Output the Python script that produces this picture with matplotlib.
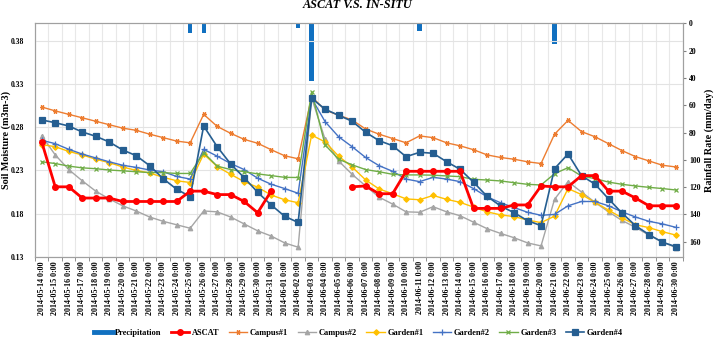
import numpy as np
import pandas as pd
import matplotlib
matplotlib.use('Agg')
import matplotlib.pyplot as plt
from matplotlib.lines import Line2D
from matplotlib.ticker import FixedLocator

plt.rcParams['font.family'] = ['Liberation Serif', 'DejaVu Serif']
plt.rcParams['font.weight'] = 'bold'

# ---------------- data ----------------
dates = pd.date_range('2014-05-14', '2014-06-30', freq='D')
date_labels = [f"{d:%Y-%m-%d} 0:00" for d in dates]

nan = np.nan
precipitation = [0, 0, 0, 0, 0, 0, 0, 0, 0, 0, 0, 7.0, 7.3, 0, 0, 0, 0, 0, 0, 3.7,
                 42.3, 0, 0, 0, 0, 0, 0, 0, 5.6, 0, 0, 0, 0, 0, 0, 0, 0, 0,
                 15.2, 0, 0, 0, 0, 0, 0, 0, 0, 0]

ascat = [0.263, 0.211, 0.211, 0.198, 0.198, 0.198, 0.194, 0.194, 0.194, 0.194,
         0.194, 0.206, 0.206, 0.202, 0.202, 0.194, 0.181, 0.206, nan, nan,
         nan, nan, nan, 0.211, 0.212, 0.203, 0.203, 0.229, 0.229, 0.229,
         0.229, 0.229, 0.186, 0.186, 0.186, 0.190, 0.190, 0.212, 0.211, 0.211,
         0.224, 0.224, 0.206, 0.206, 0.198, 0.189, 0.189, 0.189]

campus1 = [0.3035, 0.299, 0.295, 0.291, 0.287, 0.283, 0.279, 0.2765, 0.272, 0.268,
           0.264, 0.262, 0.295, 0.281, 0.273, 0.266, 0.2615, 0.254, 0.247, 0.2435,
           0.3155, 0.300, 0.294, 0.2885, 0.278, 0.272, 0.267, 0.262, 0.270, 0.268,
           0.262, 0.2585, 0.254, 0.248, 0.245, 0.243, 0.240, 0.238,
           0.272, 0.288, 0.275, 0.269, 0.261, 0.253, 0.246, 0.241, 0.236, 0.234]

campus2 = [0.270, 0.248, 0.231, 0.218, 0.206, 0.197, 0.189, 0.183, 0.176, 0.171,
           0.167, 0.163, 0.183, 0.182, 0.176, 0.168, 0.160, 0.154, 0.146, 0.141,
           0.314, 0.266, 0.241, 0.2255, 0.212, 0.199, 0.191, 0.182, 0.1815, 0.188,
           0.182, 0.1775, 0.170, 0.1625, 0.157, 0.152, 0.146, 0.1425,
           0.1965, 0.217, 0.205, 0.193, 0.182, 0.172, 0.164, 0.155, 0.147, 0.1405]

garden1 = [0.260, 0.2575, 0.252, 0.248, 0.243, 0.239, 0.234, 0.230, 0.227, 0.222,
           0.218, 0.216, 0.249, 0.2345, 0.2255, 0.217, 0.2105, 0.2015, 0.196, 0.1925,
           0.271, 0.263, 0.2465, 0.234, 0.219, 0.2085, 0.203, 0.197, 0.196, 0.201,
           0.1965, 0.193, 0.1875, 0.182, 0.1785, 0.1765, 0.1725, 0.1695,
           0.177, 0.209, 0.202, 0.193, 0.184, 0.175, 0.167, 0.1637, 0.159, 0.155]

garden2 = [0.265, 0.261, 0.2545, 0.249, 0.2445, 0.240, 0.236, 0.2335, 0.2305, 0.2285,
           0.223, 0.220, 0.2545, 0.2465, 0.238, 0.231, 0.221, 0.214, 0.209, 0.2035,
           0.3136, 0.2865, 0.269, 0.2575, 0.245, 0.2355, 0.229, 0.220, 0.217, 0.222,
           0.220, 0.217, 0.209, 0.1995, 0.1925, 0.187, 0.1815, 0.178,
           0.179, 0.189, 0.194, 0.194, 0.189, 0.182, 0.176, 0.171, 0.168, 0.164]

garden3 = [0.240, 0.238, 0.235, 0.233, 0.232, 0.2305, 0.2295, 0.2285, 0.2275, 0.2275,
           0.2265, 0.2265, 0.2505, 0.235, 0.231, 0.2285, 0.226, 0.224, 0.222, 0.2218,
           0.321, 0.2595, 0.243, 0.2365, 0.231, 0.2285, 0.2255, 0.2248, 0.2248, 0.2245,
           0.2236, 0.2228, 0.2197, 0.2189, 0.2178, 0.2158, 0.2139, 0.2131,
           0.2262, 0.2332, 0.2235, 0.2205, 0.2165, 0.2139, 0.212, 0.2104, 0.209, 0.2073]

garden4 = [0.2885, 0.2853, 0.2815, 0.2746, 0.2696, 0.263, 0.2537, 0.2471, 0.2355, 0.2204,
           0.2082, 0.1996, 0.2815, 0.2575, 0.2375, 0.2216, 0.2047, 0.190, 0.1769, 0.1697,
           0.3136, 0.3009, 0.2939, 0.287, 0.2742, 0.2645, 0.2587, 0.2459, 0.251, 0.2499,
           0.2401, 0.2313, 0.2163, 0.200, 0.1888, 0.181, 0.1718, 0.166,
           0.232, 0.2491, 0.2239, 0.2141, 0.1971, 0.1806, 0.166, 0.1556, 0.1468, 0.1416]

left_ticks = [0.13, 0.18, 0.23, 0.28, 0.33, 0.38]
right_ticks = [0, 20, 40, 60, 80, 100, 120, 140, 160]

# ---------------- figure ----------------
fig = plt.figure(figsize=(7.17, 3.38), dpi=100)
ax = fig.add_axes([0.0488, 0.2405, 0.9034, 0.6905])
ax2 = ax.twinx()
ax.set_zorder(ax2.get_zorder() + 1)
ax.patch.set_visible(False)

x = np.arange(len(dates))

prec_color = '#1170C0'
ax2.bar(x, precipitation, width=0.32, color=prec_color, zorder=2)
ax2.set_ylim(171, 0)
ax2.yaxis.set_major_locator(FixedLocator(right_ticks))
ax2.tick_params(axis='y', labelsize=5.5, length=2.5, pad=2, color='#808080')
ax2.set_ylabel('Rainfall Rate (mm/day)', fontsize=7.3, fontweight='bold', labelpad=3)

series = [
    ('Campus#1', campus1, '#ED7D31', (6, 2, 90), 3.5, 1.0),
    ('Campus#2', campus2, '#A5A5A5', '^', 3.2, 1.0),
    ('Garden#1', garden1, '#FFC000', 'D', 2.8, 1.0),
    ('Garden#2', garden2, '#4472C4', '+', 4.0, 1.0),
    ('Garden#3', garden3, '#70AD47', 'x', 3.2, 1.0),
    ('Garden#4', garden4, '#255E91', 's', 4.0, 1.2),
]
handles = {}
for name, vals, col, mk, ms, lw in series:
    h, = ax.plot(x, vals, color=col, marker=mk, markersize=ms, lw=lw,
                 markeredgecolor=col, markerfacecolor=col, markeredgewidth=0.9,
                 zorder=3, label=name)
    handles[name] = h
h_ascat, = ax.plot(x, ascat, color='#FF0000', marker='o', markersize=4, lw=2.0,
                   zorder=4, label='ASCAT')

ax.set_xlim(-0.5, len(dates) - 0.5)
ax.set_ylim(0.13, 0.4005)
ax.yaxis.set_major_locator(FixedLocator(left_ticks))
ax.set_yticklabels([f"{v:.2f}" for v in left_ticks])
ax.tick_params(axis='y', labelsize=5.5, length=0, pad=8)
ax.set_ylabel('Soil Moisture (m3m-3)', fontsize=7.3, fontweight='bold')
ax.yaxis.set_label_coords(-0.037, 0.5)

ax.set_xticks(x)
ax.set_xticklabels(date_labels, rotation=90, fontsize=5.8)
ax.tick_params(axis='x', which='major', length=0, pad=3)
ax.set_xticks(np.arange(-0.5, len(dates), 1.0), minor=True)
ax.tick_params(axis='x', which='minor', length=3, color='#808080')

ax.grid(True, axis='y', which='major', color='#E3E3E3', lw=0.8, zorder=0)
ax.grid(True, axis='x', which='minor', color='#E8E8E8', lw=0.8, zorder=0)

for a in (ax, ax2):
    for s in a.spines.values():
        s.set_color('#A0A0A0')
        s.set_linewidth(0.8)

fig.text(0.4986, 0.976, 'ASCAT V.S. IN-SITU', ha='center', va='baseline',
         fontsize=8.8, fontweight='bold', style='italic')

leg_handles = [Line2D([], [], color=prec_color, lw=3.5), h_ascat] + [handles[n] for n in
               ['Campus#1', 'Campus#2', 'Garden#1', 'Garden#2', 'Garden#3', 'Garden#4']]
leg_labels = ['Precipitation', 'ASCAT', 'Campus#1', 'Campus#2', 'Garden#1',
              'Garden#2', 'Garden#3', 'Garden#4']
fig.legend(leg_handles, leg_labels, loc='center', bbox_to_anchor=(0.5, 0.016),
           ncol=8, frameon=False, fontsize=6, handlelength=2.2,
           columnspacing=1.15, handletextpad=0.3)

fig.savefig('out.png', dpi=100)
